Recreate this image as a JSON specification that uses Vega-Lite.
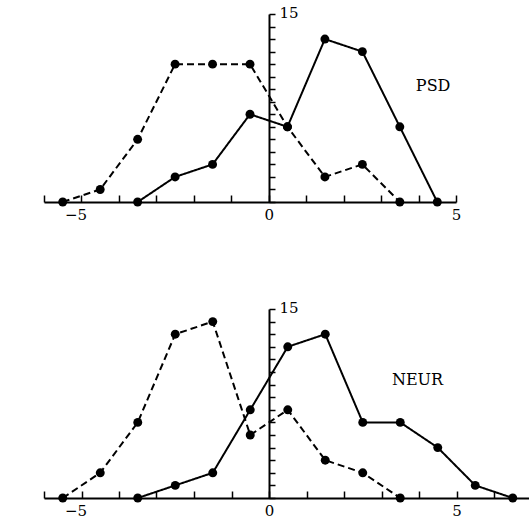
{
  "$schema": "https://vega.github.io/schema/vega-lite/v6.json",
  "autosize": {"type": "pad"},
  "padding": {"left": 43, "top": 5, "right": 0, "bottom": 0},
  "spacing": 107,
  "bounds": "flush",
  "config": {"view": {"stroke": null}, "font": "DejaVu Serif"},
  "datasets": {
    "psd": [
      {"group": "dashed", "x": -5.5, "y": 0},
      {"group": "dashed", "x": -4.5, "y": 1},
      {"group": "dashed", "x": -3.5, "y": 5},
      {"group": "dashed", "x": -2.5, "y": 11},
      {"group": "dashed", "x": -1.5, "y": 11},
      {"group": "dashed", "x": -0.5, "y": 11},
      {"group": "dashed", "x": 0.5, "y": 6},
      {"group": "dashed", "x": 1.5, "y": 2},
      {"group": "dashed", "x": 2.5, "y": 3},
      {"group": "dashed", "x": 3.5, "y": 0},
      {"group": "solid", "x": -3.5, "y": 0},
      {"group": "solid", "x": -2.5, "y": 2},
      {"group": "solid", "x": -1.5, "y": 3},
      {"group": "solid", "x": -0.5, "y": 7},
      {"group": "solid", "x": 0.5, "y": 6},
      {"group": "solid", "x": 1.5, "y": 13},
      {"group": "solid", "x": 2.5, "y": 12},
      {"group": "solid", "x": 3.5, "y": 6},
      {"group": "solid", "x": 4.5, "y": 0}
    ],
    "neur": [
      {"group": "dashed", "x": -5.5, "y": 0},
      {"group": "dashed", "x": -4.5, "y": 2},
      {"group": "dashed", "x": -3.5, "y": 6},
      {"group": "dashed", "x": -2.5, "y": 13},
      {"group": "dashed", "x": -1.5, "y": 14},
      {"group": "dashed", "x": -0.5, "y": 5},
      {"group": "dashed", "x": 0.5, "y": 7},
      {"group": "dashed", "x": 1.5, "y": 3},
      {"group": "dashed", "x": 2.5, "y": 2},
      {"group": "dashed", "x": 3.5, "y": 0},
      {"group": "solid", "x": -3.5, "y": 0},
      {"group": "solid", "x": -2.5, "y": 1},
      {"group": "solid", "x": -1.5, "y": 2},
      {"group": "solid", "x": -0.5, "y": 7},
      {"group": "solid", "x": 0.5, "y": 12},
      {"group": "solid", "x": 1.5, "y": 13},
      {"group": "solid", "x": 2.5, "y": 6},
      {"group": "solid", "x": 3.5, "y": 6},
      {"group": "solid", "x": 4.5, "y": 4},
      {"group": "solid", "x": 5.5, "y": 1},
      {"group": "solid", "x": 6.5, "y": 0}
    ]
  },
  "vconcat": [
    {
      "width": 412,
      "height": 188,
      "data": {"name": "psd"},
      "encoding": {
        "x": {
          "field": "x", "type": "quantitative",
          "scale": {"domain": [-6, 5], "nice": false, "zero": false},
          "axis": {
            "orient": "bottom", "title": null, "grid": false,
            "values": [-6, -5, -4, -3, -2, -1, 0, 1, 2, 3, 4, 5],
            "labelExpr": "datum.value == 0 ? '0' : datum.value == 5 ? '5' : datum.value == -5 ? '−5' : ''",
            "labelOffset": {"condition": {"test": "datum.value == -5", "value": -6}, "value": 0},
            "tickSize": -7, "tickWidth": 1.5, "tickColor": "black",
            "domainColor": "black", "domainWidth": 2,
            "labelPadding": 12, "labelFontSize": 15, "labelColor": "black",
            "labelBaseline": "top", "labelFlush": false, "labelOverlap": false
          }
        },
        "y": {
          "field": "y", "type": "quantitative",
          "scale": {"domain": [0, 15], "nice": false},
          "axis": {
            "orient": "right", "offset": -187, "title": null, "grid": false,
            "values": [0, 1, 2, 3, 4, 5, 6, 7, 8, 9, 10, 11, 12, 13, 14, 15],
            "labelExpr": "datum.value == 15 ? '15' : ''",
            "labelOffset": -2,
            "tickSize": 6, "tickWidth": 1.5, "tickColor": "black",
            "domainColor": "black", "domainWidth": 2,
            "labelPadding": 4, "labelFontSize": 15, "labelColor": "black",
            "labelFlush": false, "labelOverlap": false
          }
        }
      },
      "layer": [
        {
          "mark": {"type": "line", "color": "black", "strokeWidth": 2},
          "encoding": {
            "detail": {"field": "group"},
            "strokeDash": {"field": "group", "type": "nominal", "scale": {"domain": ["solid", "dashed"], "range": [[1, 0], [7, 4]]}, "legend": null}
          }
        },
        {
          "mark": {"type": "point", "filled": true, "color": "black", "opacity": 1, "size": 80}
        },
        {
          "transform": [{"filter": "datum.group == 'dashed' && datum.x == -5.5"}],
          "mark": {"type": "text", "text": "PSD", "fontSize": 16, "font": "DejaVu Serif", "align": "center", "baseline": "middle", "fill": "black"},
          "encoding": {"x": {"datum": 4.39}, "y": {"datum": 9.25}}
        }
      ]
    },
    {
      "width": 486,
      "height": 189,
      "data": {"name": "neur"},
      "encoding": {
        "x": {
          "field": "x", "type": "quantitative",
          "scale": {"domain": [-6, 6.96], "nice": false, "zero": false},
          "axis": {
            "orient": "bottom", "title": null, "grid": false,
            "values": [-6, -5, -4, -3, -2, -1, 0, 1, 2, 3, 4, 5, 6],
            "labelExpr": "datum.value == 0 ? '0' : datum.value == 5 ? '5' : datum.value == -5 ? '−5' : ''",
            "labelOffset": {"condition": {"test": "datum.value == -5", "value": -6}, "value": 0},
            "tickSize": -7, "tickWidth": 1.5, "tickColor": "black",
            "domainColor": "black", "domainWidth": 2,
            "labelPadding": 12, "labelFontSize": 15, "labelColor": "black",
            "labelBaseline": "top", "labelFlush": false, "labelOverlap": false
          }
        },
        "y": {
          "field": "y", "type": "quantitative",
          "scale": {"domain": [0, 15], "nice": false},
          "axis": {
            "orient": "right", "offset": -261, "title": null, "grid": false,
            "values": [0, 1, 2, 3, 4, 5, 6, 7, 8, 9, 10, 11, 12, 13, 14, 15],
            "labelExpr": "datum.value == 15 ? '15' : ''",
            "labelOffset": -2,
            "tickSize": 6, "tickWidth": 1.5, "tickColor": "black",
            "domainColor": "black", "domainWidth": 2,
            "labelPadding": 4, "labelFontSize": 15, "labelColor": "black",
            "labelFlush": false, "labelOverlap": false
          }
        }
      },
      "layer": [
        {
          "mark": {"type": "line", "color": "black", "strokeWidth": 2},
          "encoding": {
            "detail": {"field": "group"},
            "strokeDash": {"field": "group", "type": "nominal", "scale": {"domain": ["solid", "dashed"], "range": [[1, 0], [7, 4]]}, "legend": null}
          }
        },
        {
          "mark": {"type": "point", "filled": true, "color": "black", "opacity": 1, "size": 80}
        },
        {
          "transform": [{"filter": "datum.group == 'dashed' && datum.x == -5.5"}],
          "mark": {"type": "text", "text": "NEUR", "fontSize": 16, "font": "DejaVu Serif", "align": "center", "baseline": "middle", "fill": "black"},
          "encoding": {"x": {"datum": 3.96}, "y": {"datum": 9.33}}
        }
      ]
    }
  ]
}
